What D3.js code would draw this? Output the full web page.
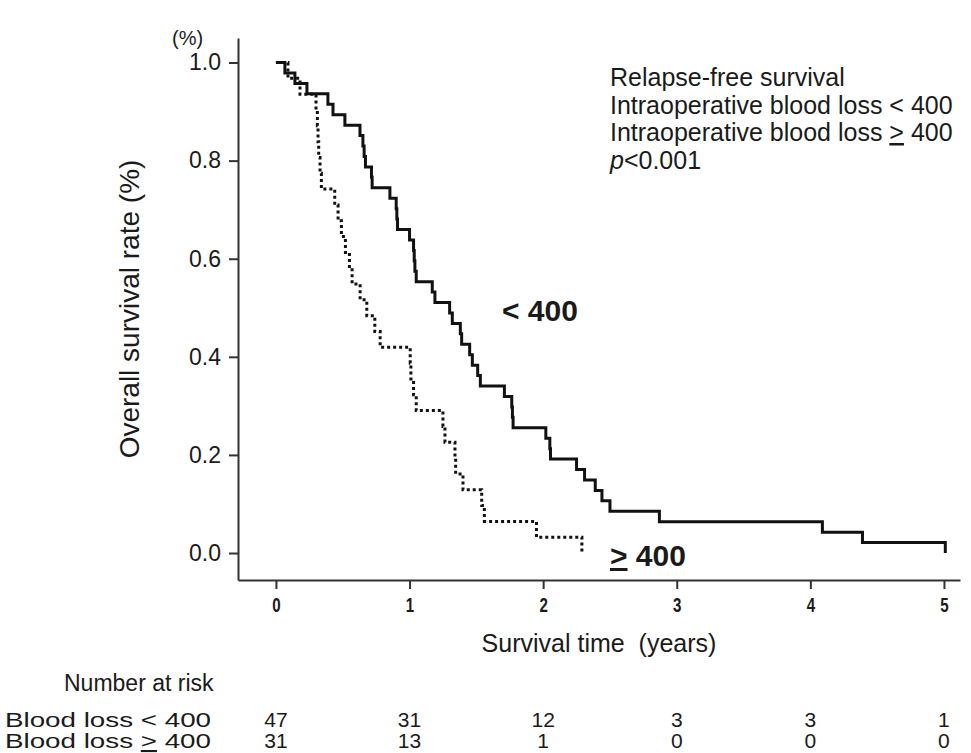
<!DOCTYPE html>
<html>
<head>
<meta charset="utf-8">
<script src="https://cdn.jsdelivr.net/npm/d3@7"></script>
<style>
  html, body { margin: 0; padding: 0; background: #fff; }
  svg text { font-family: "Liberation Sans", Arial, sans-serif; fill: #1a1a1a; white-space: pre; }
  .axis path, .axis line { stroke: #333; stroke-width: 2; }
</style>
</head>
<body>
<div id="chart"></div>
<script>
/* Kaplan-Meier relapse-free survival, split by intraoperative blood loss. */

// event times in years (no censoring)
const timesLow = [0.067, 0.142, 0.232, 0.389, 0.427, 0.516, 0.629, 0.651, 0.66, 0.67,
  0.715, 0.72, 0.853, 0.90, 0.905, 0.91, 1.0, 1.03, 1.035, 1.04,
  1.05, 1.17, 1.19, 1.30, 1.32, 1.38, 1.39, 1.45, 1.47, 1.51,
  1.53, 1.71, 1.765, 1.77, 1.775, 2.02, 2.05, 2.055, 2.25, 2.31,
  2.39, 2.44, 2.50, 2.87, 4.09, 4.39, 5.01];
const timesHigh = [0.09, 0.18, 0.30, 0.31, 0.315, 0.32, 0.33, 0.34, 0.44, 0.465,
  0.49, 0.52, 0.55, 0.57, 0.63, 0.68, 0.74, 0.78, 1.005, 1.01,
  1.03, 1.05, 1.25, 1.265, 1.34, 1.345, 1.40, 1.54, 1.56, 1.95, 2.29];

const riskTimes = [0, 1, 2, 3, 4, 5];
const riskLow = [47, 31, 12, 3, 3, 1];
const riskHigh = [31, 13, 1, 0, 0, 0];
const yTicks = [0, 0.2, 0.4, 0.6, 0.8, 1.0];

const legendLines = ["Relapse-free survival", "Intraoperative blood loss < 400",
  "Intraoperative blood loss \u2265 400", "p<0.001"];

const W = 971, H = 753;
const FONT = "'Liberation Sans', Arial, sans-serif";

const svg = d3.select("#chart").append("svg")
  .attr("width", W).attr("height", H);

const x = d3.scaleLinear().domain([-0.284, 5.12]).range([238, 960]);
const y = d3.scaleLinear().domain([-0.055, 1.05]).range([580, 38]);

// axes
const gx = svg.append("g").attr("class", "axis")
  .attr("transform", `translate(0,${y.range()[0]})`)
  .call(d3.axisBottom(x).tickValues(riskTimes).tickSizeInner(9).tickSizeOuter(0).tickPadding(8).tickFormat(d3.format("d")));
// narrow bold digits like the original
gx.selectAll(".tick text")
  .attr("x", 0)
  .attr("font-size", 21).attr("font-weight", 700)
  .attr("transform", "scale(0.72,1)")
  .style("font-family", FONT);

const gy = svg.append("g").attr("class", "axis")
  .attr("transform", `translate(${x.range()[0]},0)`)
  .call(d3.axisLeft(y).tickValues(yTicks).tickSizeInner(9).tickSizeOuter(0).tickPadding(8).tickFormat(d3.format(".1f")));
gy.selectAll("text")
  .attr("font-size", 23)
  .style("font-family", FONT);

// KM step curves
function kmPoints(times) {
  const n = times.length;
  const pts = [[0, 1]];
  times.forEach((t, i) => pts.push([t, 1 - (i + 1) / n]));
  return pts;
}
const line = d3.line()
  .x((d) => x(d[0]))
  .y((d) => y(d[1]))
  .curve(d3.curveStepAfter);

svg.append("path")
  .datum(kmPoints(timesHigh))
  .attr("d", line)
  .attr("fill", "none")
  .attr("stroke", "#111")
  .attr("stroke-width", 3)
  .attr("stroke-dasharray", "3,3");

svg.append("path")
  .datum(kmPoints(timesLow))
  .attr("d", line)
  .attr("fill", "none")
  .attr("stroke", "#111")
  .attr("stroke-width", 3);

// titles
svg.append("text").attr("x", 172).attr("y", 45).attr("font-size", 20).text("(%)");

svg.append("text")
  .attr("transform", `translate(139,${(y.range()[0] + y.range()[1]) / 2}) rotate(-90)`)
  .attr("text-anchor", "middle")
  .attr("font-size", 28)
  .text("Overall survival rate (%)");

svg.append("text")
  .attr("x", (x.range()[0] + x.range()[1]) / 2).attr("y", 652)
  .attr("text-anchor", "middle")
  .attr("font-size", 25)
  .text("Survival time  (years)");

// legend block
const leg = svg.append("g").attr("transform", "translate(610,86)");
legendLines.forEach((s, i) => {
  const t = leg.append("text").attr("y", i * 27.5).attr("font-size", 25);
  if (i === 2) {
    t.append("tspan").text("Intraoperative blood loss ");
    t.append("tspan").style("text-decoration", "underline").text(">");
    t.append("tspan").text(" 400");
  } else if (i === 3) {
    t.append("tspan").attr("font-style", "italic").text("p");
    t.append("tspan").text("<0.001");
  } else {
    t.text(s);
  }
});

// curve labels
svg.append("text").attr("x", 502).attr("y", 321)
  .attr("font-size", 30).attr("font-weight", 700).text("< 400");
const hi = svg.append("text").attr("x", 610).attr("y", 566)
  .attr("font-size", 30).attr("font-weight", 700);
hi.append("tspan").style("text-decoration", "underline").text(">");
hi.append("tspan").text(" 400");

// number at risk table
svg.append("text").attr("x", 64).attr("y", 691).attr("font-size", 23).text("Number at risk");

const rows = [
  { label: "Blood loss < 400", values: riskLow, yb: 727, under: false },
  { label: "Blood loss ", values: riskHigh, yb: 748, under: true },
];
rows.forEach((r) => {
  // the original row labels are drawn wide and short
  const t = svg.append("text").attr("x", 5).attr("y", r.yb).attr("font-size", 21)
    .attr("textLength", 206).attr("lengthAdjust", "spacingAndGlyphs");
  t.append("tspan").text(r.label);
  if (r.under) {
    t.append("tspan").style("text-decoration", "underline").text(">");
    t.append("tspan").text(" 400");
  }
  svg.append("g").selectAll("text")
    .data(r.values)
    .join("text")
    .attr("x", (d, i) => x(riskTimes[i]))
    .attr("y", r.yb)
    .attr("text-anchor", "middle")
    .attr("font-size", 21)
    .text((d) => d);
});
</script>
</body>
</html>
